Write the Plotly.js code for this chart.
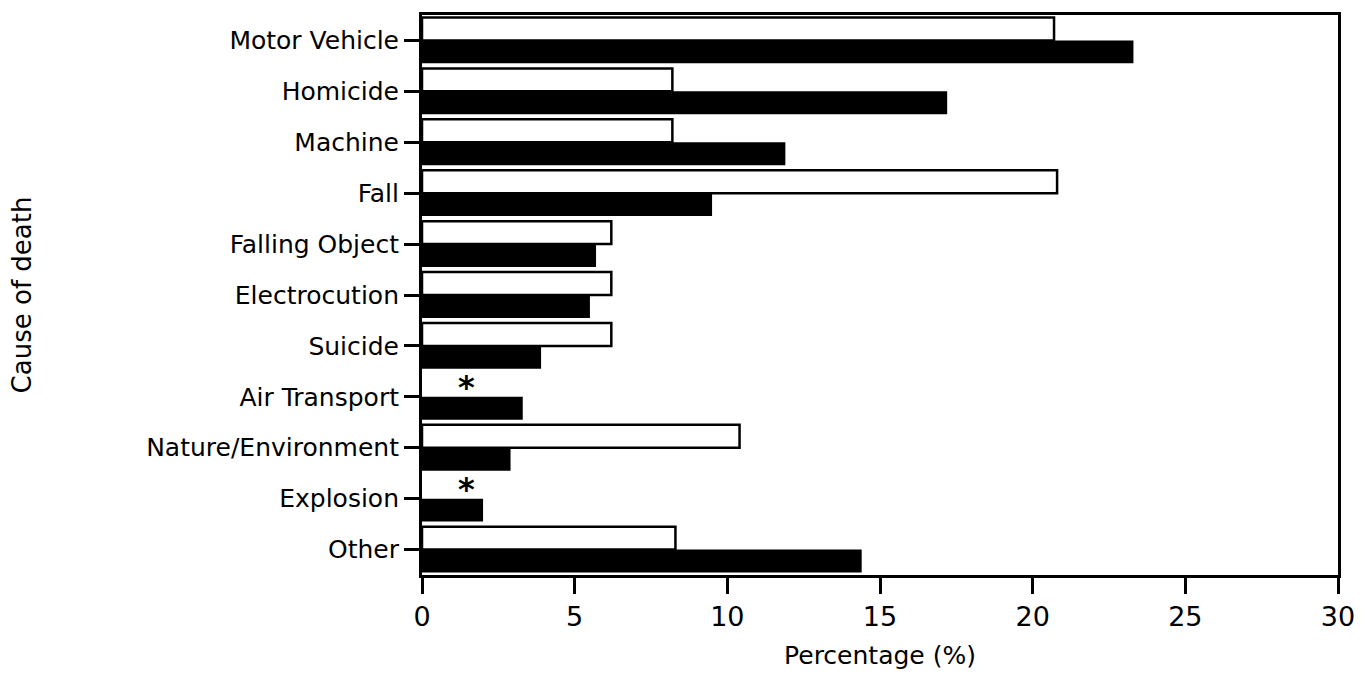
<!DOCTYPE html>
<html>
<head>
<meta charset="utf-8">
<script src="https://cdn.plot.ly/plotly-3.0.1.min.js"></script>
<style>
  html, body { margin: 0; padding: 0; background: #ffffff; }
  #chart { width: 1370px; height: 676px; }
</style>
</head>
<body>
<div id="chart"></div>
<script>
// Categories (top to bottom)
var causes = ["Motor Vehicle", "Homicide", "Machine", "Fall", "Falling Object",
  "Electrocution", "Suicide", "Air Transport", "Nature/Environment", "Explosion", "Other"];
// White (outlined) bars
var whiteValues = [20.7, 8.2, 8.2, 20.8, 6.2, 6.2, 6.2, null, 10.4, null, 8.3];
// Black (filled) bars
var blackValues = [23.3, 17.2, 11.9, 9.5, 5.7, 5.5, 3.9, 3.3, 2.9, 2.0, 14.4];
// Categories marked with an asterisk (no white bar)
var starredCauses = ["Air Transport", "Explosion"];
var starX = 1.45;
var xTicks = [0, 5, 10, 15, 20, 25, 30];

var FONT = "DejaVu Sans, Arial, sans-serif";

var traces = [
  {
    type: "bar", orientation: "h", name: "white",
    y: causes, x: whiteValues,
    marker: { color: "#ffffff", line: { color: "#000000", width: 2.5 } },
    hoverinfo: "x+y"
  },
  {
    type: "bar", orientation: "h", name: "black",
    y: causes, x: blackValues,
    marker: { color: "#000000", line: { color: "#000000", width: 0 } },
    hoverinfo: "x+y"
  }
];

var annotations = starredCauses.map(function (c) {
  return {
    x: starX, y: c, xref: "x", yref: "y", text: "<b>*</b>", showarrow: false,
    yshift: 10, font: { family: FONT, size: 32, color: "#000000" }
  };
});

var layout = {
  width: 1370, height: 676,
  margin: { l: 422, r: 32, t: 15, b: 101, pad: 0 },
  paper_bgcolor: "#ffffff", plot_bgcolor: "#ffffff",
  barmode: "group", bargap: 0.1, bargroupgap: 0,
  showlegend: false,
  font: { family: FONT, color: "#000000" },
  xaxis: {
    range: [0, 30], tickvals: xTicks, ticktext: xTicks.map(String),
    ticks: "outside", ticklen: 16, tickwidth: 3, tickcolor: "#000000",
    showline: true, linecolor: "#000000", linewidth: 3, mirror: true,
    showgrid: false, zeroline: false,
    tickfont: { family: FONT, size: 27, color: "#000000" },
    title: { text: "Percentage (%)", font: { family: FONT, size: 25, color: "#000000" }, standoff: 16 }
  },
  yaxis: {
    type: "category", categoryorder: "array", categoryarray: causes,
    range: [10.5, -0.5],
    ticks: "outside", ticklen: 15, tickwidth: 3, tickcolor: "#000000",
    showline: true, linecolor: "#000000", linewidth: 3, mirror: true,
    showgrid: false, zeroline: false,
    tickfont: { family: FONT, size: 25, color: "#000000" },
    title: { text: "Cause of death", font: { family: FONT, size: 26, color: "#000000" }, standoff: 108 }
  },
  annotations: annotations
};

Plotly.newPlot("chart", traces, layout, { displayModeBar: false, staticPlot: true });
</script>
</body>
</html>
